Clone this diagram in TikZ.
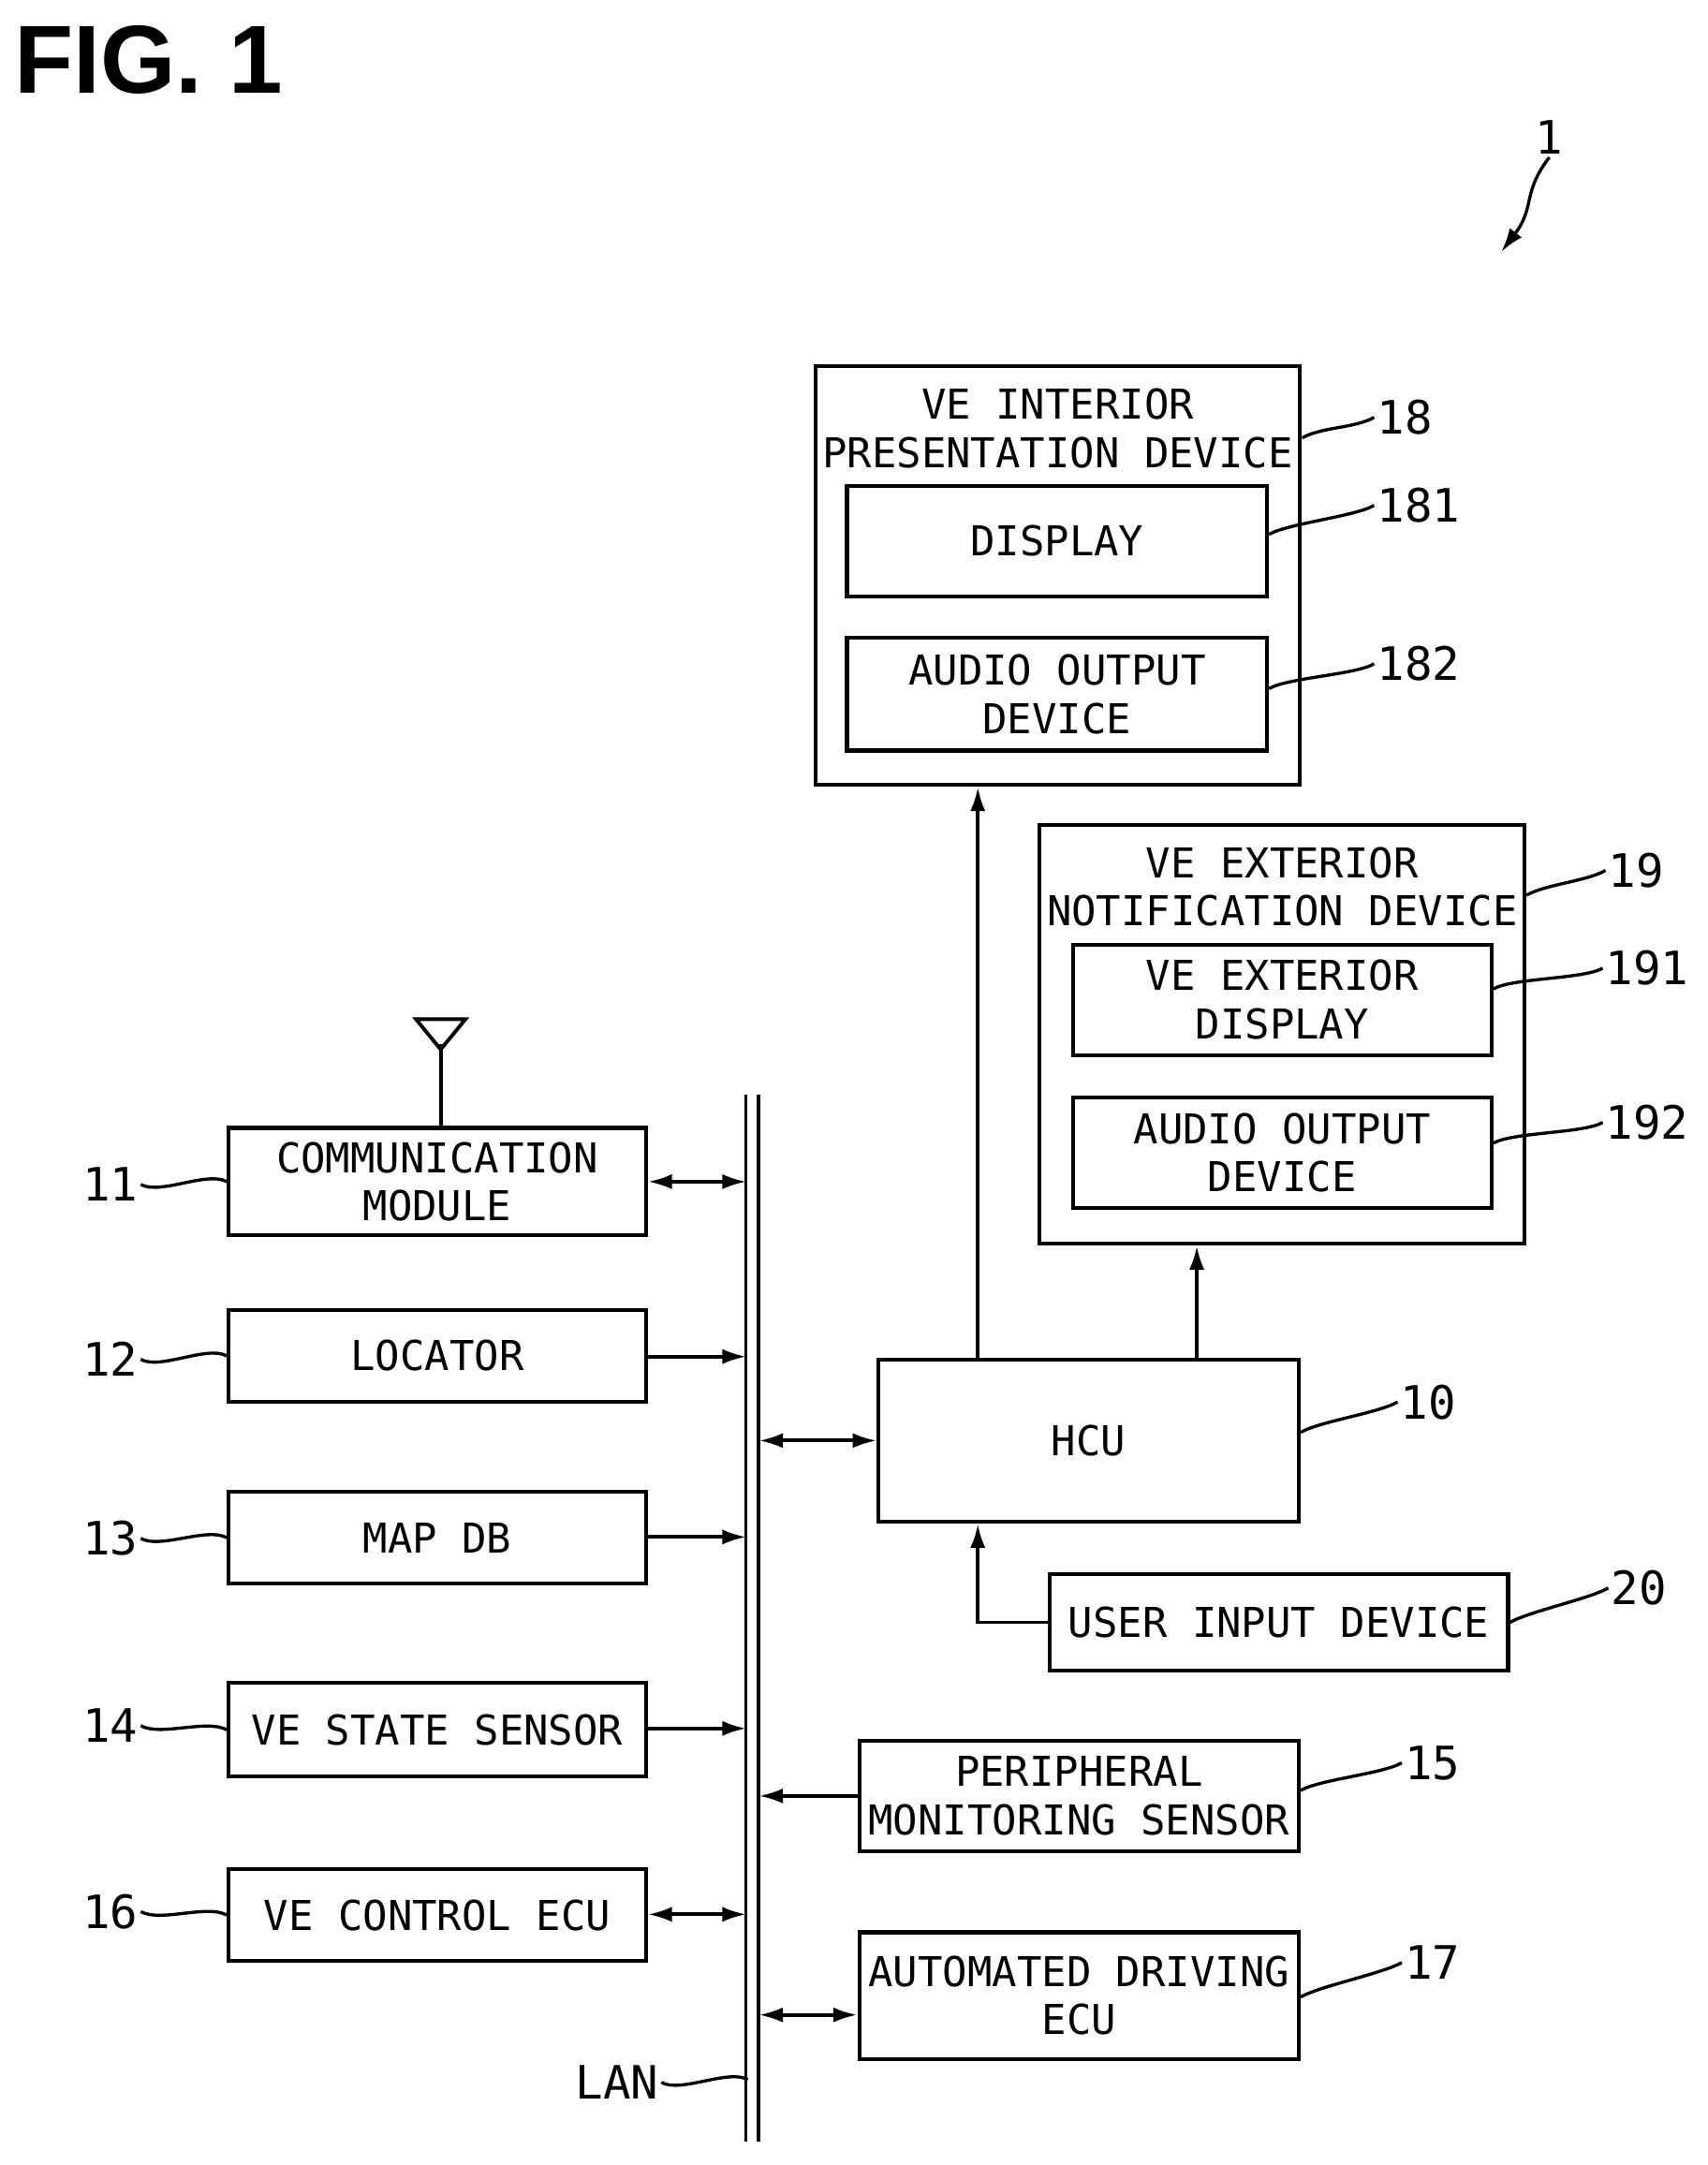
\documentclass[tikz,border=0pt]{standalone}
\usepackage{fontspec}
\setmainfont{DejaVu Sans Mono}
\newfontfamily\figfont{Liberation Sans}
\usetikzlibrary{arrows.meta}
\newcommand\mybox[6]{\node[box,minimum width={(#4-#2)*0.02cm},minimum height={(#5-#3)*0.02cm}] (#1) at ({(#2+#4)/2},{(#3+#5)/2}) {#6};}
\begin{document}
\begin{tikzpicture}[x=0.02cm,y=-0.02cm,
 box/.style={draw,line width=1.6pt,inner sep=0pt,align=center,font=\fontsize{17}{19}\selectfont},
 lab/.style={font=\fontsize{19}{19}\selectfont,inner sep=1pt},
 ar/.style={line width=1.5pt,-{Latex[length=0.35cm,width=0.22cm]}},
 dar/.style={line width=1.5pt,{Latex[length=0.35cm,width=0.22cm]}-{Latex[length=0.35cm,width=0.22cm]}},
 ld/.style={line width=1.3pt}]
\useasboundingbox (0,0) rectangle (1240,1572);
\node[anchor=north west,font=\figfont\bfseries\fontsize{40}{40}\selectfont,inner sep=0pt] (fig) at (10,18) {FIG. 1};
% box 18
\mybox{n18}{592}{266}{944}{570}{}
\node[box,draw=none] (t18) at (768,311) {VE INTERIOR\\[1pt]PRESENTATION DEVICE};
\mybox{n181}{615}{353}{920}{433}{DISPLAY}
\mybox{n182}{615}{463}{920}{545}{AUDIO OUTPUT\\[1pt]DEVICE}
% box 19
\mybox{n19}{755}{599}{1107}{903}{}
\node[box,draw=none] (t19) at (931,644) {VE EXTERIOR\\[1pt]NOTIFICATION DEVICE};
\mybox{n191}{779}{686}{1083}{766}{VE EXTERIOR\\[1pt]DISPLAY}
\mybox{n192}{779}{797}{1083}{877}{AUDIO OUTPUT\\[1pt]DEVICE}
% left
\mybox{n11}{166}{819}{469}{897}{COMMUNICATION\\[1pt]MODULE}
\mybox{n12}{166}{951}{469}{1018}{LOCATOR}
\mybox{n13}{166}{1083}{469}{1150}{MAP DB}
\mybox{n14}{166}{1222}{469}{1290}{VE STATE SENSOR}
\mybox{n16}{166}{1357}{469}{1424}{VE CONTROL ECU}
% right
\mybox{n10}{638}{987}{943}{1105}{HCU}
\mybox{n20}{762}{1143}{1095}{1213}{USER INPUT DEVICE}
\mybox{n15}{624}{1264}{943}{1344}{PERIPHERAL\\[1pt]MONITORING SENSOR}
\mybox{n17}{624}{1403}{943}{1495}{AUTOMATED DRIVING\\[1pt]ECU}
% antenna
\coordinate (ant) at (320,758);
\draw[line width=1.5pt] (n11.north -| ant) -- (ant);
\draw[line width=1.5pt] (302,740) -- (338,740) -- (320,762) -- cycle;
% LAN bus
\coordinate (bt) at (546,795); \coordinate (bb) at (546,1555);
\draw[line width=1.3pt,double distance=4pt] (bt) -- (bb);
\coordinate (b11) at (542,858); \coordinate (b12) at (542,985);
\coordinate (b13) at (542,1116); \coordinate (b14) at (542,1255);
\coordinate (b16) at (542,1390); \coordinate (b15) at (551,1304);
\coordinate (b10) at (551,1046); \coordinate (b17) at (551,1463);
\draw[dar] (n11.east |- b11) -- (b11);
\draw[ar] (n12.east |- b12) -- (b12);
\draw[ar] (n13.east |- b13) -- (b13);
\draw[ar] (n14.east |- b14) -- (b14);
\draw[dar] (n16.east |- b16) -- (b16);
\draw[ar] (n15.west |- b15) -- (b15);
\draw[dar] (b10) -- (n10.west |- b10);
\draw[dar] (b17) -- (n17.west |- b17);
% HCU links
\coordinate (x18) at (710,0); \coordinate (x19) at (869,0);
\draw[ar] (n10.north -| x18) -- (n18.south -| x18);
\draw[ar] (n10.north -| x19) -- (n19.south -| x19);
\draw[ar] (n20.west) -| (n10.south -| x18);
% labels
\newcommand\lead[4]{\node[lab] (#1) at #2 {#4}; \draw[ld] #3 .. controls +(14,-8) and +(-14,8) .. (#1.west);}
\lead{l18}{(1020,303)}{(n18.east |- 0,318)}{18}
\lead{l181}{(1030,367)}{(n181.east |- 0,388)}{181}
\lead{l182}{(1030,482)}{(n182.east |- 0,500)}{182}
\lead{l19}{(1188,632)}{(n19.east |- 0,650)}{19}
\lead{l191}{(1196,703)}{(n191.east |- 0,718)}{191}
\lead{l192}{(1196,815)}{(n192.east |- 0,830)}{192}
\lead{l10}{(1037,1018)}{(n10.east |- 0,1040)}{10}
\lead{l20}{(1190,1153)}{(n20.east |- 0,1178)}{20}
\lead{l15}{(1040,1280)}{(n15.east |- 0,1300)}{15}
\lead{l17}{(1040,1425)}{(n17.east |- 0,1450)}{17}
\newcommand\leadl[4]{\node[lab] (#1) at #2 {#4}; \draw[ld] (#1.east) .. controls +(14,8) and +(-14,-8) .. #3;}
\leadl{l11}{(80,860)}{(n11.west)}{11}
\leadl{l12}{(80,987)}{(n12.west)}{12}
\leadl{l13}{(80,1117)}{(n13.west)}{13}
\leadl{l14}{(80,1253)}{(n14.west)}{14}
\leadl{l16}{(80,1388)}{(n16.west)}{16}
\leadl{lan}{(448,1512)}{(543,1510)}{LAN}
\node[lab] (l1) at (1125,100) {1};
\coordinate (a1) at (1090,183);
\draw[ld,-{Latex[length=0.35cm,width=0.22cm]}] (l1.south) .. controls (1105,140) and (1115,150) .. (a1);
\end{tikzpicture}
\end{document}
